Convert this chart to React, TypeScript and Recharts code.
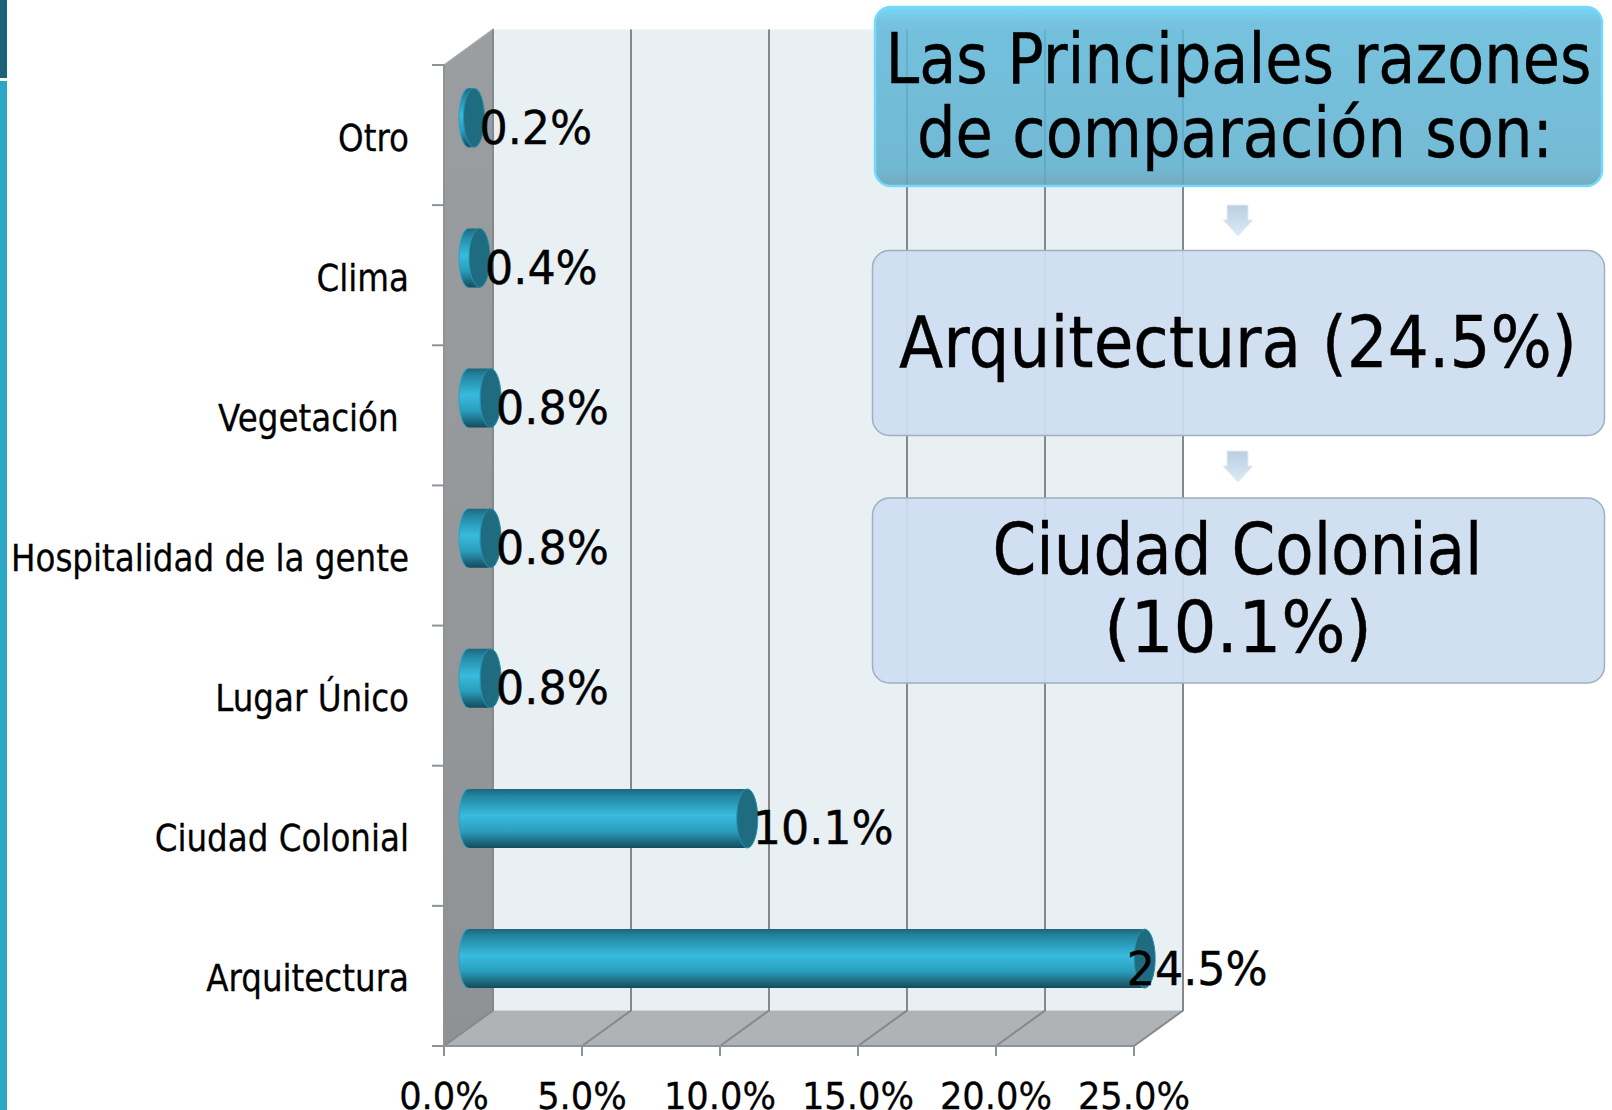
import React from "react";
import { BarChart, Bar, XAxis, YAxis, ReferenceArea, ReferenceLine, LabelList } from "recharts";

const categories = ["Otro", "Clima", "Vegetación\u00A0", "Hospitalidad de la gente", "Lugar Único", "Ciudad Colonial", "Arquitectura"];
const values = [0.2, 0.4, 0.8, 0.8, 0.8, 10.1, 24.5];
const valueTicks = [0, 5, 10, 15, 20, 25];
const chartData = categories.map((name, i) => ({ name, value: values[i] }));

const FONT = "'DejaVu Sans', sans-serif";
const DEPTH_X = 49;
const DEPTH_Y = 35.5;
const GRID = "#85898c";
const AXIS = "#8f9395";

function Walls(p: any) {
  const { x, y, width: w, height: h } = p;
  return (
    <g>
      <rect x={x + DEPTH_X} y={y - DEPTH_Y} width={w} height={h} fill="#e9f0f4" />
      <polygon points={`${x},${y} ${x + DEPTH_X},${y - DEPTH_Y} ${x + DEPTH_X},${y + h - DEPTH_Y} ${x},${y + h}`} fill="url(#leftWall)" stroke="#a4a8aa" strokeWidth={1.5} />
      <polygon points={`${x},${y + h} ${x + DEPTH_X},${y + h - DEPTH_Y} ${x + w + DEPTH_X},${y + h - DEPTH_Y} ${x + w},${y + h}`} fill="#afb3b5" />
    </g>
  );
}

function GridLine3D(p: any) {
  const x = p.x1 ?? p.viewBox?.x;
  const yTop = Math.min(p.y1 ?? p.viewBox?.y, p.y2 ?? p.viewBox?.y + p.viewBox?.height);
  const yBot = Math.max(p.y1 ?? p.viewBox?.y, p.y2 ?? p.viewBox?.y + p.viewBox?.height);
  return (
    <path
      d={`M${x},${yBot} L${x + DEPTH_X},${yBot - DEPTH_Y} L${x + DEPTH_X},${yTop - DEPTH_Y}`}
      fill="none"
      stroke={GRID}
      strokeWidth={2}
    />
  );
}

function Cylinder(p: any) {
  const { x, y, width, height } = p;
  const rx = 10.5;
  const leftRx = 9.5;
  const ry = height / 2;
  const sx = x + DEPTH_X / 2;
  const cy = y + ry - DEPTH_Y / 2;
  const top = cy - ry;
  const bot = cy + ry;
  const ex = sx + width;
  return (
    <g>
      <path
        d={`M${sx},${top} L${ex},${top} L${ex},${bot} L${sx},${bot} A${leftRx},${ry} 0 0 1 ${sx},${top} Z`}
        fill="url(#barBody)"
      />
      <path d={`M${sx},${top} A${leftRx},${ry} 0 0 0 ${sx},${bot}`} fill="none" stroke="#2ba3c2" strokeWidth={1} />
      <ellipse cx={ex} cy={cy} rx={rx} ry={ry} fill="#1f6b80" stroke="#2793b0" strokeWidth={1} />
    </g>
  );
}

function DataLabel(p: any) {
  const { x, y, width, height, value } = p;
  const nudge = value > 20 ? 6.5 : 30;
  const bx = x + width + nudge;
  const by = y + height / 2 - DEPTH_Y / 2 + 26;
  return (
    <text transform={`translate(${bx},${by}) scale(0.965,1)`} fontFamily={FONT} fontSize={46} fill="#000" stroke="#000" strokeWidth={0.4}>
      {`${Number(value).toFixed(1)}%`}
    </text>
  );
}

function CategoryTick(p: any) {
  const { x, y, payload, index } = p;
  const half = 70.07;
  const axisX = x + 8;
  return (
    <g>
      <line x1={axisX - 12} x2={axisX} y1={y - half} y2={y - half} stroke={AXIS} strokeWidth={2} />
      {index === categories.length - 1 ? (
        <line x1={axisX - 12} x2={axisX} y1={y + half} y2={y + half} stroke={AXIS} strokeWidth={2} />
      ) : null}
      <text transform={`translate(${axisX - 35},${y + 15.5}) scale(0.88,1)`} textAnchor="end" fontFamily={FONT} fontSize={37} fill="#000" stroke="#000" strokeWidth={0.3}>
        {payload.value}
      </text>
    </g>
  );
}

function ValueTick(p: any) {
  const { x, y, payload } = p;
  return (
    <text transform={`translate(${x},${y + 51}) scale(0.955,1)`} textAnchor="middle" fontFamily={FONT} fontSize={37} fill="#000" stroke="#000" strokeWidth={0.3}>
      {`${Number(payload.value).toFixed(1)}%`}
    </text>
  );
}

function Callouts() {
  const t = (s: string, cx: number, base: number, len: number, size: number) => (
    <text x={cx} y={base} textAnchor="middle" textLength={len} lengthAdjust="spacingAndGlyphs" fontFamily={FONT} fontSize={size} fill="#000" stroke="#000" strokeWidth={0.4}>
      {s}
    </text>
  );
  const arrow = (top: number) => (
    <polygon
      points={`1227,${top} 1248,${top} 1248,${top + 15} 1253,${top + 15} 1238,${top + 31} 1223,${top + 15} 1227,${top + 15}`}
      fill="url(#arrowFill)"
      stroke="#e4edf5"
      strokeWidth={1}
    />
  );
  return (
    <svg width={1612} height={1110} style={{ position: "absolute", left: 0, top: 0, pointerEvents: "none" }}>
      <defs>
        <linearGradient id="headBox" x1="0" y1="0" x2="0" y2="1">
          <stop offset="0" stopColor="#72d6f8" stopOpacity={0.96} />
          <stop offset="0.08" stopColor="#60b9d9" stopOpacity={0.86} />
          <stop offset="0.9" stopColor="#5eafce" stopOpacity={0.86} />
          <stop offset="1" stopColor="#6aa3b8" stopOpacity={0.92} />
        </linearGradient>
        <linearGradient id="arrowFill" x1="0" y1="0" x2="0" y2="1">
          <stop offset="0" stopColor="#b9cfe2" />
          <stop offset="1" stopColor="#dceaf5" />
        </linearGradient>
      </defs>
      <rect x={875} y={7} width={727} height={179} rx={16} fill="url(#headBox)" stroke="#74d9fb" strokeWidth={2.5} />
      {arrow(205)}
      <rect x={872.5} y={250.5} width={732} height={185} rx={17} fill="#cddef0" fillOpacity={0.93} stroke="#9fb0bf" strokeWidth={1.5} />
      {arrow(451)}
      <rect x={872.5} y={498} width={732} height={185} rx={17} fill="#cddef0" fillOpacity={0.93} stroke="#9fb0bf" strokeWidth={1.5} />
      {t("Las Principales razones", 1238.5, 83, 706, 70)}
      {t("de comparación son:", 1235, 157, 636, 70)}
      {t("Arquitectura (24.5%)", 1238, 367, 678, 71)}
      {t("Ciudad Colonial", 1237.5, 574, 490, 71)}
      {t("(10.1%)", 1238, 652, 268, 71)}
    </svg>
  );
}

export default function App() {
  return (
    <div style={{ position: "absolute", left: 0, top: 0, width: 1612, height: 1110, overflow: "hidden", background: "#fff" }}>
      <div style={{ position: "absolute", left: 0, top: 0, width: 7, height: 78, background: "#1c6378" }} />
      <div style={{ position: "absolute", left: 0, top: 81, width: 7, height: 1029, background: "#2ba6c4" }} />
      <BarChart
        width={1612}
        height={1110}
        data={chartData}
        layout="vertical"
        margin={{ top: 65, right: 478, bottom: 0, left: 0 }}
        style={{ position: "absolute", left: 0, top: 0 }}
      >
        <defs>
          <linearGradient id="barBody" x1="0" y1="0" x2="0" y2="1">
            <stop offset="0" stopColor="#1d667c" />
            <stop offset="0.12" stopColor="#2386a1" />
            <stop offset="0.45" stopColor="#38bbdf" />
            <stop offset="0.72" stopColor="#2a9dbb" />
            <stop offset="0.92" stopColor="#1a6276" />
            <stop offset="1" stopColor="#144c5c" />
          </linearGradient>
          <linearGradient id="leftWall" x1="0" y1="0" x2="0" y2="1">
            <stop offset="0" stopColor="#9a9ea0" />
            <stop offset="1" stopColor="#8e9294" />
          </linearGradient>
        </defs>
        <ReferenceArea x1={0} x2={25} shape={Walls} zIndex={-50} />
        {valueTicks.map((v) => (
          <ReferenceLine key={v} x={v} shape={GridLine3D} zIndex={-40} />
        ))}
        <XAxis
          type="number"
          domain={[0, 25]}
          ticks={valueTicks}
          interval={0}
          height={64}
          tickSize={10}
          tick={ValueTick}
          axisLine={{ stroke: AXIS, strokeWidth: 2 }}
          tickLine={{ stroke: AXIS, strokeWidth: 2 }}
        />
        <YAxis
          type="category"
          dataKey="name"
          width={444}
          interval={0}
          tick={CategoryTick}
          tickLine={false}
          axisLine={{ stroke: AXIS, strokeWidth: 2 }}
        />
        <Bar dataKey="value" barSize={59} shape={Cylinder} isAnimationActive={false}>
          <LabelList dataKey="value" content={DataLabel} />
        </Bar>
      </BarChart>
      <Callouts />
    </div>
  );
}
